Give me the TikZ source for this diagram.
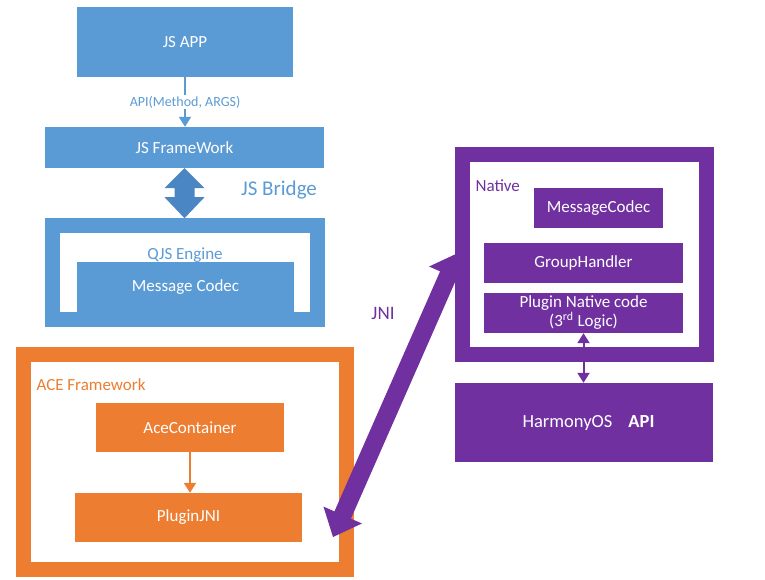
\documentclass[tikz,border=0pt]{standalone}
\usepackage{fontspec}
\setmainfont{Carlito}
\usepackage{xcolor}
\usetikzlibrary{positioning,arrows.meta,calc}

\definecolor{appblue}{HTML}{5B9BD5}
\definecolor{bridgeblue}{HTML}{4A86C3}
\definecolor{aceorange}{HTML}{ED7D31}
\definecolor{nativepurple}{HTML}{7030A0}

\begin{document}
\begin{tikzpicture}[
    x=1pt, y=-1pt,
    font=\fontsize{17}{19}\selectfont,
    block/.style={rectangle, inner sep=0pt, align=center, text=white},
    blueblock/.style={block, fill=appblue},
    orangeblock/.style={block, fill=aceorange},
    purpleblock/.style={block, fill=nativepurple},
    frame/.style={rectangle, draw, line width=15pt, inner sep=0pt},
    line/.style={-{Triangle[length=10pt,width=12pt]}, line width=2pt},
    dline/.style={{Triangle[length=10pt,width=12pt]}-{Triangle[length=10pt,width=12pt]}, line width=2pt}
]
\useasboundingbox (0,0) rectangle (765,579);

% Left column: JS side
\node[blueblock, minimum width=216pt, minimum height=70pt] (jsapp) at (185,42) {JS APP};
\node[blueblock, minimum width=279pt, minimum height=41pt] (jsfw) at (184.5,147.5) {JS FrameWork};
\draw[line, appblue] (jsapp.south) -- node[fill=white, text=appblue, inner sep=1pt, font=\fontsize{14}{16}\selectfont] (apilbl) {API(Method, ARGS)} (jsapp.south |- jsfw.north);

% JS Bridge
\fill[bridgeblue] (jsfw.south) -- ++(20,20) -- ++(-10,0) -- ++(0,9) -- ++(10,0) -- ++(-20,21)
    -- ++(-20,-21) -- ++(10,0) -- ++(0,-9) -- ++(-10,0) -- cycle;
\node[text=appblue, font=\fontsize{21}{24}\selectfont] (bridgelbl) at (279,190) {JS Bridge};

% QJS engine
\node[frame, draw=appblue, minimum width=265pt, minimum height=94pt] (qjs) at (185,272.5) {};
\node[text=appblue] (qjslbl) at (185,255) {QJS Engine};
\node[blueblock, minimum width=217pt, minimum height=50pt] (msgcodec) at (185.5,287) {Message Codec};

% ACE framework
\node[frame, draw=aceorange, minimum width=323pt, minimum height=215pt] (ace) at (185,462) {};
\node[text=aceorange, anchor=west] (acelbl) at (33,385) {ACE Framework};
\node[orangeblock, minimum width=188pt, minimum height=49pt] (acecont) at (190,427.5) {AceContainer};
\node[orangeblock, minimum width=227pt, minimum height=49pt] (pluginjni) at (188.5,517.5) {PluginJNI};
\draw[line, aceorange] (acecont.south) -- (acecont.south |- pluginjni.north);

% Right column: native side
\node[frame, draw=nativepurple, minimum width=244pt, minimum height=200pt] (native) at (584,254.5) {};
\node[text=nativepurple, anchor=west] (nativelbl) at (472,186) {Native};
\node[purpleblock, minimum width=129pt, minimum height=40pt] (nmsgcodec) at (598.5,208) {MessageCodec};
\node[purpleblock, minimum width=199pt, minimum height=40pt] (grouphandler) at (583.5,263) {GroupHandler};
\node[purpleblock, minimum width=199pt, minimum height=40pt] (plugincode) at (583.5,313) {Plugin Native code\\(3\textsuperscript{rd} Logic)};
\node[purpleblock, minimum width=258pt, minimum height=79pt, font=\fontsize{18.5}{20}\selectfont] (harmony) at (584,422.5) {\hspace*{9pt}HarmonyOS\hspace{16pt}\textbf{API}};
\draw[dline, nativepurple] (plugincode.south) -- (plugincode.south |- harmony.north);

% JNI link
\node[text=nativepurple, font=\fontsize{19}{22}\selectfont] (jnilbl) at (383,313) {JNI};
\coordinate (jnibot) at (333,537);
\coordinate (jnitop) at (458,253);
\coordinate (ja) at ($(jnibot)!24pt!(jnitop)$);
\coordinate (jb) at ($(jnitop)!24pt!(jnibot)$);
\fill[nativepurple] (jnibot) -- ($(ja)!21pt!90:(jnitop)$) -- ($(ja)!9pt!90:(jnitop)$)
    -- ($(jb)!9pt!-90:(jnibot)$) -- ($(jb)!21pt!-90:(jnibot)$) -- (jnitop)
    -- ($(jb)!21pt!90:(jnibot)$) -- ($(jb)!9pt!90:(jnibot)$)
    -- ($(ja)!9pt!-90:(jnitop)$) -- ($(ja)!21pt!-90:(jnitop)$) -- cycle;

\end{tikzpicture}
\end{document}
